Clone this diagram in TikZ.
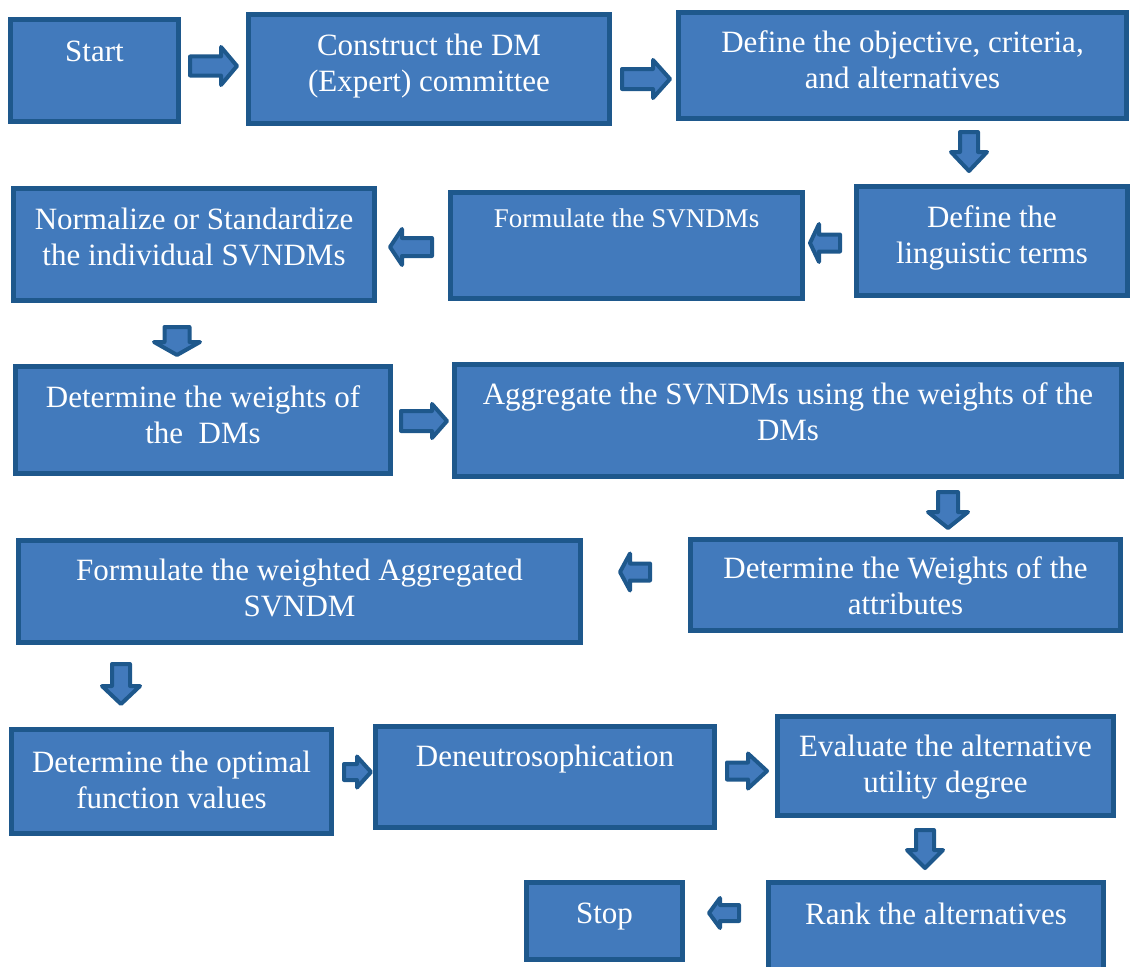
\documentclass[tikz,border=0pt]{standalone}
\usepackage{fontspec}
\setmainfont{Liberation Serif}
\definecolor{boxfill}{RGB}{66,122,188}
\definecolor{boxline}{RGB}{30,88,140}
\tikzset{
  stepbox/.style={draw=boxline, fill=boxfill, line width=5pt, inner sep=0pt},
  steplabel/.style={text=white, align=center, inner sep=0pt, anchor=north,
    font=\fontsize{31}{36}\selectfont},
  blockarrow/.style={draw=boxline, fill=boxfill, line width=4pt, line join=round},
}
% box from outer corners (x1,y1)-(x2,y2)
\newcommand\stepbx[5]{\node[stepbox, minimum width={#4pt-#2pt-5pt},
  minimum height={#5pt-#3pt-5pt}] (#1) at ({(#2+#4)/2},{(#3+#5)/2}) {};}
% label: name, centre x, first baseline y, text
\newcommand\steplbl[5][]{\node[steplabel,#1] (#2) at ({#3},{#4-24}) {\rule{0pt}{24pt}#5};}
% horizontal block arrow: tail x, head-start x, tip x, centre y, shaft half, head half
\newcommand\harrow[6]{\draw[blockarrow] ({#1},{#4-#5}) -- ({#2},{#4-#5}) -- ({#2},{#4-#6})
  -- ({#3},{#4}) -- ({#2},{#4+#6}) -- ({#2},{#4+#5}) -- ({#1},{#4+#5}) -- cycle;}
% vertical block arrow: tail y, head-start y, tip y, centre x, shaft half, head half
\newcommand\varrow[6]{\draw[blockarrow] ({#4-#5},{#1}) -- ({#4-#5},{#2}) -- ({#4-#6},{#2})
  -- ({#4},{#3}) -- ({#4+#6},{#2}) -- ({#4+#5},{#2}) -- ({#4+#5},{#1}) -- cycle;}
\begin{document}
\begin{tikzpicture}[x=1pt,y=-1pt]
\useasboundingbox (0,0) rectangle (1131,966);

% process boxes
\stepbx{start}{8}{17}{181}{124}
\stepbx{committee}{246}{12}{612}{126}
\stepbx{objective}{676}{10}{1129}{121}
\stepbx{linguistic}{854}{184}{1130}{298}
\stepbx{svndms}{448}{190}{805}{301}
\stepbx{normalize}{11}{186}{377}{303}
\stepbx{dmweights}{13}{364}{393}{476}
\stepbx{aggregate}{452}{362}{1124}{479}
\stepbx{attrweights}{688}{537}{1123}{633}
\stepbx{weighted}{16}{538}{583}{645}
\stepbx{optimal}{9}{727}{334}{836}
\stepbx{deneut}{373}{724}{717}{830}
\stepbx{evaluate}{775}{714}{1116}{818}
\stepbx{rank}{766}{880}{1106}{975}
\stepbx{stop}{524}{880}{685}{962}

% box texts
\steplbl{tstart}{94.5}{61}{Start}
\steplbl{tcommittee}{429}{55}{Construct the DM\\(Expert) committee}
\steplbl{tobjective}{902.5}{52}{Define the objective, criteria,\\and alternatives}
\steplbl{tlinguistic}{992}{227}{Define the\\linguistic terms}
\steplbl[font=\fontsize{27}{32}\selectfont]{tsvndms}{626.5}{227}{Formulate the SVNDMs}
\steplbl{tnormalize}{194}{229}{Normalize or Standardize\\the individual SVNDMs}
\steplbl{tdmweights}{203}{407}{Determine the weights of\\the\ \ DMs}
\steplbl{taggregate}{788}{404}{Aggregate the SVNDMs using the weights of the\\DMs}
\steplbl{tattrweights}{905.5}{578}{Determine the Weights of the\\attributes}
\steplbl{tweighted}{299.5}{580}{Formulate the weighted Aggregated\\SVNDM}
\steplbl{toptimal}{171.5}{772}{Determine the optimal\\function values}
\steplbl{tdeneut}{545}{766}{Deneutrosophication}
\steplbl{tevaluate}{945.5}{756}{Evaluate the alternative\\utility degree}
\steplbl{trank}{936}{924}{Rank the alternatives}
\steplbl{tstop}{604.5}{923}{Stop}

% block arrows between steps
\harrow{190}{221}{237}{66}{9.5}{19}
\harrow{622}{653}{670}{79}{10}{19}
\varrow{132}{152}{171}{969}{9}{18}
\harrow{840}{819}{810}{243}{8.5}{19}
\harrow{432}{402}{390}{247}{9}{18}
\varrow{327}{342}{355}{177}{12.5}{23}
\harrow{401}{432}{447}{421}{10}{17}
\varrow{492}{512}{528}{948}{10}{20}
\harrow{650}{630}{620}{572}{8.5}{18.5}
\varrow{664}{686}{704}{121}{9}{19}
\harrow{344}{357}{371}{772}{8}{15.5}
\harrow{727}{748}{767}{771}{8.5}{17.5}
\varrow{830}{850}{868}{925}{9}{18}
\harrow{739}{720}{709}{913}{8}{15}
\end{tikzpicture}
\end{document}
